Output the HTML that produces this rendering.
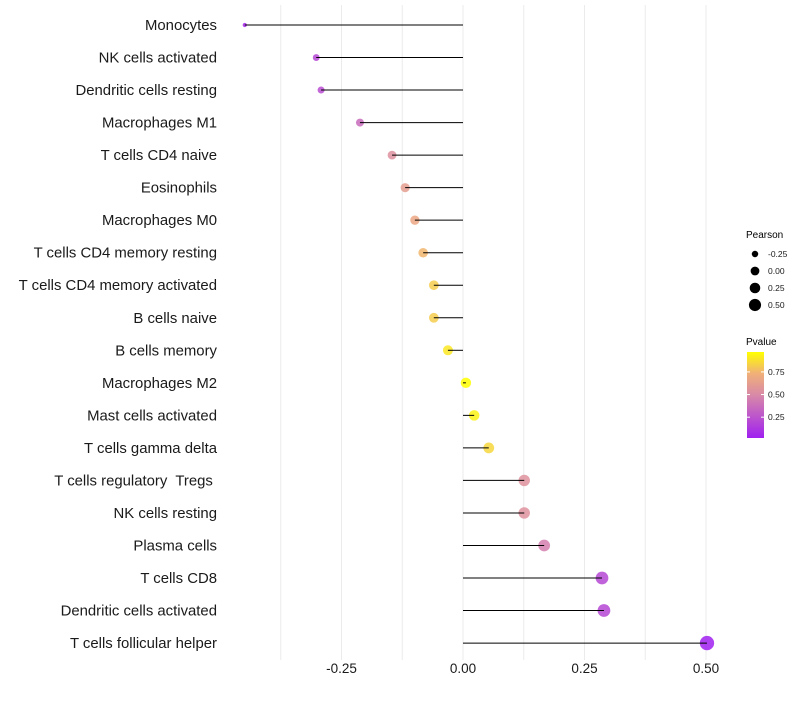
<!DOCTYPE html>
<html><head><meta charset="utf-8"><style>
body{margin:0;background:#fff;font-family:"Liberation Sans",sans-serif}
text{white-space:pre}
</style></head><body>
<svg id="chart" width="800" height="700" xmlns="http://www.w3.org/2000/svg" font-family="Liberation Sans, sans-serif">
<g id="grid"></g><g id="marks"></g><g id="ylabels"></g><g id="xlabels"></g>
<g id="legend">
<text x="746" y="238" font-size="10">Pearson</text>
<g id="sizeLegend"></g>
<text x="746" y="345" font-size="10">Pvalue</text>
<defs><linearGradient id="cg" x1="0" y1="1" x2="0" y2="0">
<stop offset="0" stop-color="#a020f0"/><stop offset="0.5" stop-color="#d889a8"/><stop offset="0.75" stop-color="#f0b078"/><stop offset="1" stop-color="#ffff00"/></linearGradient></defs>
<rect x="747" y="352" width="17" height="86" fill="url(#cg)"/>
<g id="colorTicks"></g>
</g>
</svg>
<script>
const categories=["Monocytes","NK cells activated","Dendritic cells resting","Macrophages M1","T cells CD4 naive","Eosinophils","Macrophages M0","T cells CD4 memory resting","T cells CD4 memory activated","B cells naive","B cells memory","Macrophages M2","Mast cells activated","T cells gamma delta","T cells regulatory  Tregs ","NK cells resting","Plasma cells","T cells CD8","Dendritic cells activated","T cells follicular helper"];
const pearson=[-0.449,-0.302,-0.292,-0.212,-0.146,-0.119,-0.099,-0.082,-0.060,-0.060,-0.031,0.006,0.023,0.053,0.126,0.126,0.167,0.286,0.290,0.502];
const pvalue=[0.05,0.2,0.22,0.36,0.54,0.62,0.68,0.75,0.82,0.82,0.9,0.97,0.93,0.85,0.55,0.55,0.45,0.2,0.2,0.02];
const xTicks=[-0.25,0,0.25,0.5];
const xTickLabels=["-0.25","0.00","0.25","0.50"];
const sizeLegendVals=[-0.25,0,0.25,0.5];
const colorTickVals=[0.25,0.5,0.75];
const NS="http://www.w3.org/2000/svg";
const xs=v=>463+v*486;
const ys=i=>25+i*32.53;
const rs=v=>Math.sqrt(Math.max(0,4.5+49*(v+0.45)));
function lerp(a,b,t){return a.map((x,k)=>Math.round(x+(b[k]-x)*t));}
function col(p){const stops=[[0,[160,32,240]],[0.5,[216,137,168]],[0.75,[240,176,120]],[1,[255,255,0]]];
 let t=(p-0.02)/0.95;t=Math.max(0,Math.min(1,t));
 for(let i=1;i<stops.length;i++){if(t<=stops[i][0]){const a=stops[i-1],b=stops[i];const c=lerp(a[1],b[1],(t-a[0])/(b[0]-a[0]));return `rgb(${c})`;}}
 return "rgb(255,255,0)";}
function mk(tag,at,parent){const e=document.createElementNS(NS,tag);for(const k in at)e.setAttribute(k,at[k]);parent.appendChild(e);return e;}
const grid=document.getElementById('grid'),marks=document.getElementById('marks'),yl=document.getElementById('ylabels'),xl=document.getElementById('xlabels');
[-0.375,-0.25,-0.125,0,0.125,0.25,0.375,0.5].forEach(v=>{const l=mk('line',{x1:xs(v),x2:xs(v),y1:5,y2:660,stroke:'#ebebeb','stroke-width':1},grid);

});
categories.forEach((c,i)=>{
 const cir=mk('circle',{cx:xs(pearson[i]),cy:ys(i),r:rs(pearson[i]),fill:col(pvalue[i]),'fill-opacity':0.85},marks);
 
 
 const ln=mk('line',{x1:xs(0),x2:xs(pearson[i]),y1:ys(i),y2:ys(i),stroke:'#000','stroke-width':1},marks);
 
 
 const t=mk('text',{x:217,y:ys(i)+5,'text-anchor':'end','font-size':14.9,fill:'#1a1a1a'},yl);t.textContent=c;
 
 
});
xTicks.forEach((v,i)=>{const t=mk('text',{x:xs(v),y:673,'text-anchor':'middle','font-size':13.5,fill:'#1a1a1a'},xl);t.textContent=xTickLabels[i];
 
 });
const sl=document.getElementById('sizeLegend');
sizeLegendVals.forEach((v,i)=>{const y=254+i*17;
 const c=mk('circle',{cx:755,cy:y,r:rs(v)*0.85,fill:'#000'},sl);
 
 
 const t=mk('text',{x:768,y:y+3,'font-size':8.5,fill:'#1a1a1a'},sl);t.textContent=v.toFixed(2);
 
 });
const ct=document.getElementById('colorTicks');
colorTickVals.forEach(v=>{const y=438-(v-0.02)/0.95*86;
 mk('line',{x1:747,x2:750,y1:y,y2:y,stroke:'#fff'},ct);mk('line',{x1:761,x2:764,y1:y,y2:y,stroke:'#fff'},ct);
 const t=mk('text',{x:768,y:y+3,'font-size':8.5,fill:'#1a1a1a'},ct);t.textContent=v.toFixed(2);
 
 });
</script>
</body></html>
